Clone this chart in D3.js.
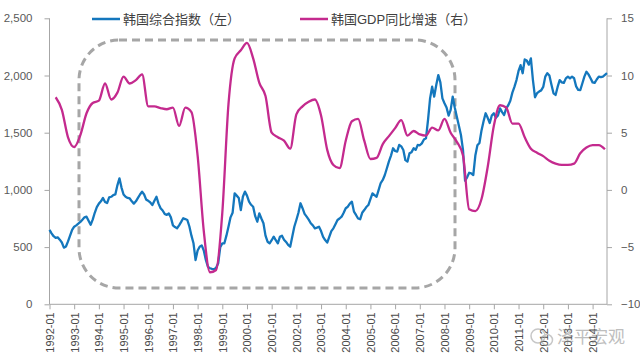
<!DOCTYPE html>
<html><head><meta charset="utf-8">
<script src="https://cdn.jsdelivr.net/npm/d3@7"></script>
<style>
html,body{margin:0;padding:0;background:#fff;}
svg text{font-family:"Liberation Sans","Noto Sans CJK SC",sans-serif;}
</style></head>
<body><svg id="chart" width="640" height="364"></svg>
<script>
// ---- data ----
const startYear = 1992, monthCount = 272; // 1992-01 .. 2014-08
const yearTicks = ["1992-01","1993-01","1994-01","1995-01","1996-01","1997-01","1998-01","1999-01","2000-01","2001-01","2002-01","2003-01","2004-01","2005-01","2006-01","2007-01","2008-01","2009-01","2010-01","2011-01","2012-01","2013-01","2014-01"];
const leftTicks = [0,500,1000,1500,2000,2500];
const rightTicks = [-10,-5,0,5,10,15];
const seriesNames = ["韩国综合指数（左）","韩国GDP同比增速（右）"];
// KOSPI monthly
const kospi = [
650,620,595,580,585,565,540,495,505,550,600,650,
678,690,705,720,740,760,766,730,695,740,800,850,
880,900,930,895,885,935,940,955,960,1040,1101,1020,
960,940,930,925,900,880,900,930,960,985,960,915,
905,890,868,905,940,880,840,820,790,781,795,760,
690,675,665,690,720,752,745,737,680,600,533,387,
470,503,515,470,387,330,315,310,306,320,358,500,
533,533,600,678,760,800,970,950,930,824,940,985,
950,897,870,853,770,722,795,750,708,600,547,533,
560,591,560,533,590,600,565,545,520,503,590,678,
737,800,883,840,790,766,740,708,690,664,670,678,
640,590,562,540,590,640,664,700,737,750,766,800,
840,853,880,897,810,781,750,743,800,824,850,868,
920,970,955,940,1000,1060,1087,1130,1189,1250,1300,1364,
1340,1334,1393,1380,1349,1260,1247,1320,1330,1364,1350,1393,
1390,1407,1440,1451,1611,1800,1902,1815,1917,2004,1940,1800,
1757,1720,1650,1700,1815,1720,1640,1560,1480,1350,1080,1110,
1150,1145,1130,1300,1390,1410,1520,1600,1670,1630,1585,1650,
1670,1630,1650,1713,1680,1655,1713,1740,1780,1850,1900,1960,
2040,2090,2020,2140,2130,2095,2150,1960,1810,1845,1860,1870,
1900,1990,2020,2000,1920,1844,1830,1900,1960,1940,1935,1975,
1990,1975,1990,1976,1905,1875,1873,1930,1990,2033,2010,1976,
1940,1935,1965,1990,1985,1990,2005,2020];
// GDP yoy quarterly, first point 1992-04, every 3 months
const gdpStartMonth = 3, gdpStep = 3;
const gdp = [
8.1,7.0,4.6,3.75,4.8,6.7,7.6,7.8,9.3,7.9,
8.5,9.9,9.3,9.6,10.1,7.3,7.3,7.15,7.05,7.2,
5.6,7.2,6.8,3.0,-3.6,-7.2,-7.0,-2.0,7.5,11.5,
12.2,12.85,11.5,9.35,8.2,5.0,4.6,4.3,3.6,6.6,
7.3,7.7,7.9,6.5,3.5,2.18,1.9,4.3,6.0,6.2,
4.3,2.7,2.8,4.0,4.7,5.4,6.1,4.75,5.15,4.85,
4.75,5.45,5.2,6.2,5.0,4.2,3.0,-1.7,-1.85,-0.8,
2.0,5.6,7.4,7.2,5.8,5.8,4.6,3.6,3.25,2.95,
2.55,2.3,2.18,2.18,2.3,3.2,3.7,3.92,3.92,3.55];

// ---- build ----
const months = d3.range(monthCount).map(i => {
  const y = startYear + Math.floor(i/12), m = i%12+1;
  return y + "-" + (m<10?"0":"") + m;
});
const svg = d3.select("#chart");
const L = 49.5, R = 607, T = 18.3, B = 304.3;
const x = d3.scalePoint().domain(months).range([L, R]);
const yL = d3.scaleLinear().domain([0,2500]).range([B, T]);
const yR = d3.scaleLinear().domain([-10,15]).range([B, T]);
const axisColor = "#a6a6a6", textColor = "#595959";

// annotation: dashed rounded box
svg.append("rect").attr("x",79).attr("y",40).attr("width",376).attr("height",248)
  .attr("rx",40).attr("ry",40).attr("fill","none")
  .attr("stroke","#a6a6a6").attr("stroke-width",3).attr("stroke-dasharray","8,5");

// left axis
const gl = svg.append("g").attr("transform",`translate(${L},0)`)
  .call(d3.axisLeft(yL).tickValues(leftTicks).tickFormat(d3.format(",")).tickSize(5).tickPadding(12));
// right axis
const gr = svg.append("g").attr("transform",`translate(${R},0)`)
  .call(d3.axisRight(yR).tickValues(rightTicks).tickSize(5).tickPadding(9));
// bottom axis
const gb = svg.append("g").attr("transform",`translate(0,${B})`)
  .call(d3.axisBottom(x).tickValues(yearTicks).tickSize(5).tickPadding(3));
gb.selectAll("text").attr("transform","rotate(-90)").attr("text-anchor","end")
  .attr("x",-8).attr("y",0).attr("dy","0.35em");
[gl,gr,gb].forEach(g=>{
  g.select(".domain").attr("stroke",axisColor).attr("stroke-width",1);
  g.selectAll(".tick line").attr("stroke",axisColor);
  g.selectAll("text").attr("fill",textColor).style("font-size","11.5px");
});
gb.selectAll("text").style("font-size","11px").attr("fill","#4a4a4a");
gb.select(".domain").attr("d",`M${L},0H${R}`);
gl.select(".domain").attr("d",`M0,${B}V${T}`);
gr.select(".domain").attr("d",`M0,${B}V${T}`);

// lines
const blue = "#1477bd", magenta = "#c42a8e";
const kData = kospi.map((v,i)=>({m:months[i], v}));
svg.append("path").datum(kData).attr("fill","none").attr("stroke",blue).attr("stroke-width",2.3)
  .attr("stroke-linejoin","round")
  .attr("d", d3.line().x(d=>x(d.m)).y(d=>yL(d.v)));
const gData = gdp.map((v,k)=>({m:months[gdpStartMonth+k*gdpStep], v}));
svg.append("path").datum(gData).attr("fill","none").attr("stroke",magenta).attr("stroke-width",2.3)
  .attr("d", d3.line().x(d=>x(d.m)).y(d=>yR(d.v)).curve(d3.curveMonotoneX));

// legend
const lg = svg.append("g");
const legendItems = [{x:92,c:blue,t:seriesNames[0]},{x:300,c:magenta,t:seriesNames[1]}];
legendItems.forEach(it=>{
  lg.append("line").attr("x1",it.x).attr("x2",it.x+28).attr("y1",19).attr("y2",19)
    .attr("stroke",it.c).attr("stroke-width",2.5);
  lg.append("text").attr("x",it.x+31).attr("y",19).attr("dy","0.35em")
    .attr("fill","#404040").style("font-size","13px").text(it.t);
});

// watermark
const wm = svg.append("g").attr("opacity",0.55);
wm.append("circle").attr("cx",538).attr("cy",336).attr("r",7).attr("fill","none").attr("stroke","#9a9a9a").attr("stroke-width",1.5);
wm.append("circle").attr("cx",547).attr("cy",340).attr("r",5.5).attr("fill","none").attr("stroke","#9a9a9a").attr("stroke-width",1.5);
wm.append("text").attr("x",557).attr("y",337).attr("dy","0.35em").attr("fill","#8a8a8a")
  .style("font-size","17px").style("font-family","'Noto Sans CJK SC',sans-serif").text("泽平宏观");
</script></body></html>
